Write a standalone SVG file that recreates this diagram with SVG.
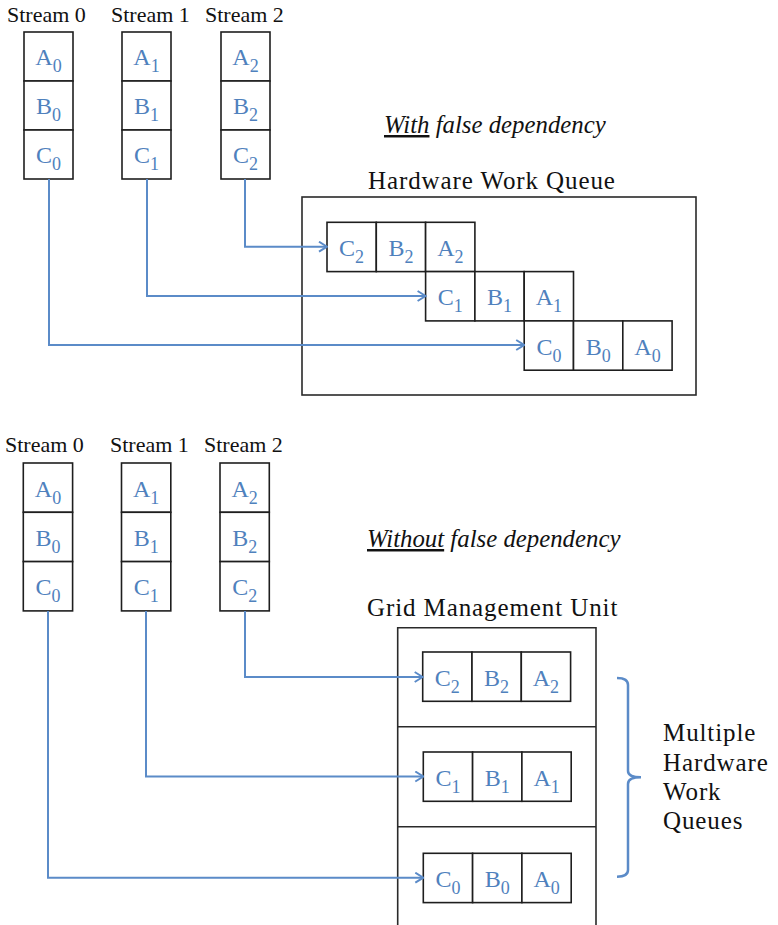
<svg xmlns="http://www.w3.org/2000/svg" width="778" height="925" viewBox="0 0 778 925">
  <style>
    .cell { fill: #ffffff; stroke: #1e1e1e; stroke-width: 1.6; }
    .frame { fill: none; stroke: #2a2a2a; stroke-width: 1.6; }
    .lbl { font-family: "Liberation Serif", "Times New Roman", serif; font-size: 24px; fill: #4f81bd; text-anchor: middle; }
    .sub { font-size: 18px; }
    .head { font-family: "Liberation Serif", "Times New Roman", serif; font-size: 22px; fill: #111111; }
    .title { font-family: "Liberation Serif", "Times New Roman", serif; font-size: 25px; letter-spacing: 0.9px; fill: #111111; }
    .note { font-family: "Liberation Serif", "Times New Roman", serif; font-size: 24.8px; font-style: italic; fill: #111111; }
    .ul { text-decoration: underline; }
    .conn { fill: none; stroke: #5b8bc8; stroke-width: 2; }
    .brace { fill: none; stroke: #5b8bc8; stroke-width: 2.5; }
  </style>
  <defs>
    <marker id="arrow" viewBox="0 0 10 12" refX="9" refY="6" markerWidth="10" markerHeight="12" markerUnits="userSpaceOnUse" orient="auto">
      <path d="M1,1 L9,6 L1,11" fill="none" stroke="#5b8bc8" stroke-width="2"/>
    </marker>
  </defs>
  <rect width="778" height="925" fill="#ffffff"/>

  <!-- ===== Upper half: single hardware work queue ===== -->
  <g id="streams-top">
    <text class="head" x="7" y="22">Stream 0</text>
    <text class="head" x="111" y="22">Stream 1</text>
    <text class="head" x="205" y="22">Stream 2</text>
  </g>

  <g id="stream0-top">
    <rect class="cell" x="24" y="32" width="49" height="49"/>
    <rect class="cell" x="24" y="81" width="49" height="49"/>
    <rect class="cell" x="24" y="130" width="49" height="49"/>
    <text class="lbl" x="48.5" y="65">A<tspan class="sub" dy="7">0</tspan></text>
    <text class="lbl" x="48.5" y="114">B<tspan class="sub" dy="7">0</tspan></text>
    <text class="lbl" x="48.5" y="163">C<tspan class="sub" dy="7">0</tspan></text>
  </g>
  <g id="stream1-top">
    <rect class="cell" x="122" y="32" width="49" height="49"/>
    <rect class="cell" x="122" y="81" width="49" height="49"/>
    <rect class="cell" x="122" y="130" width="49" height="49"/>
    <text class="lbl" x="146.5" y="65">A<tspan class="sub" dy="7">1</tspan></text>
    <text class="lbl" x="146.5" y="114">B<tspan class="sub" dy="7">1</tspan></text>
    <text class="lbl" x="146.5" y="163">C<tspan class="sub" dy="7">1</tspan></text>
  </g>
  <g id="stream2-top">
    <rect class="cell" x="221" y="32" width="49" height="49"/>
    <rect class="cell" x="221" y="81" width="49" height="49"/>
    <rect class="cell" x="221" y="130" width="49" height="49"/>
    <text class="lbl" x="245.5" y="65">A<tspan class="sub" dy="7">2</tspan></text>
    <text class="lbl" x="245.5" y="114">B<tspan class="sub" dy="7">2</tspan></text>
    <text class="lbl" x="245.5" y="163">C<tspan class="sub" dy="7">2</tspan></text>
  </g>

  <g id="caption-with">
    <text class="note" x="384" y="133"><tspan class="ul">With</tspan> false dependency</text>
  </g>

  <g id="hw-queue">
    <text class="title" x="368" y="189">Hardware Work Queue</text>
    <rect class="frame" x="302" y="197" width="394" height="198"/>
    <!-- row from stream 2 -->
    <rect class="cell" x="327" y="222.3" width="49.3" height="49.3"/>
    <rect class="cell" x="376.3" y="222.3" width="49.3" height="49.3"/>
    <rect class="cell" x="425.6" y="222.3" width="49.3" height="49.3"/>
    <text class="lbl" x="351.6" y="256">C<tspan class="sub" dy="7">2</tspan></text>
    <text class="lbl" x="401" y="256">B<tspan class="sub" dy="7">2</tspan></text>
    <text class="lbl" x="450.3" y="256">A<tspan class="sub" dy="7">2</tspan></text>
    <!-- row from stream 1 -->
    <rect class="cell" x="425.6" y="271.6" width="49.3" height="49.3"/>
    <rect class="cell" x="474.9" y="271.6" width="49.3" height="49.3"/>
    <rect class="cell" x="524.2" y="271.6" width="49.3" height="49.3"/>
    <text class="lbl" x="450.3" y="305.3">C<tspan class="sub" dy="7">1</tspan></text>
    <text class="lbl" x="499.6" y="305.3">B<tspan class="sub" dy="7">1</tspan></text>
    <text class="lbl" x="548.9" y="305.3">A<tspan class="sub" dy="7">1</tspan></text>
    <!-- row from stream 0 -->
    <rect class="cell" x="524.2" y="320.9" width="49.3" height="49.3"/>
    <rect class="cell" x="573.5" y="320.9" width="49.3" height="49.3"/>
    <rect class="cell" x="622.8" y="320.9" width="49.3" height="49.3"/>
    <text class="lbl" x="548.9" y="354.6">C<tspan class="sub" dy="7">0</tspan></text>
    <text class="lbl" x="598.2" y="354.6">B<tspan class="sub" dy="7">0</tspan></text>
    <text class="lbl" x="647.5" y="354.6">A<tspan class="sub" dy="7">0</tspan></text>
  </g>

  <!-- ===== Lower half: grid management unit ===== -->
  <g id="streams-bottom">
    <text class="head" x="5" y="452">Stream 0</text>
    <text class="head" x="110" y="452">Stream 1</text>
    <text class="head" x="204" y="452">Stream 2</text>
  </g>

  <g id="stream0-bottom">
    <rect class="cell" x="23.3" y="463" width="49.3" height="49.3"/>
    <rect class="cell" x="23.3" y="512.3" width="49.3" height="49.3"/>
    <rect class="cell" x="23.3" y="561.6" width="49.3" height="49.3"/>
    <text class="lbl" x="48" y="496.5">A<tspan class="sub" dy="7">0</tspan></text>
    <text class="lbl" x="48" y="545.8">B<tspan class="sub" dy="7">0</tspan></text>
    <text class="lbl" x="48" y="595.1">C<tspan class="sub" dy="7">0</tspan></text>
  </g>
  <g id="stream1-bottom">
    <rect class="cell" x="121.5" y="463" width="49.3" height="49.3"/>
    <rect class="cell" x="121.5" y="512.3" width="49.3" height="49.3"/>
    <rect class="cell" x="121.5" y="561.6" width="49.3" height="49.3"/>
    <text class="lbl" x="146.2" y="496.5">A<tspan class="sub" dy="7">1</tspan></text>
    <text class="lbl" x="146.2" y="545.8">B<tspan class="sub" dy="7">1</tspan></text>
    <text class="lbl" x="146.2" y="595.1">C<tspan class="sub" dy="7">1</tspan></text>
  </g>
  <g id="stream2-bottom">
    <rect class="cell" x="220" y="463" width="49.3" height="49.3"/>
    <rect class="cell" x="220" y="512.3" width="49.3" height="49.3"/>
    <rect class="cell" x="220" y="561.6" width="49.3" height="49.3"/>
    <text class="lbl" x="244.7" y="496.5">A<tspan class="sub" dy="7">2</tspan></text>
    <text class="lbl" x="244.7" y="545.8">B<tspan class="sub" dy="7">2</tspan></text>
    <text class="lbl" x="244.7" y="595.1">C<tspan class="sub" dy="7">2</tspan></text>
  </g>

  <g id="caption-without">
    <text class="note" x="367" y="547"><tspan class="ul">Without</tspan> false dependency</text>
  </g>

  <g id="gmu">
    <text class="title" x="367" y="616">Grid Management Unit</text>
    <path class="frame" d="M397.7,930 V627.7 H596 V930"/>
    <line class="frame" x1="397.7" y1="726.7" x2="596" y2="726.7"/>
    <line class="frame" x1="397.7" y1="826.7" x2="596" y2="826.7"/>
  </g>

  <g id="queue2">
    <rect class="cell" x="422.7" y="652" width="49.3" height="49.3"/>
    <rect class="cell" x="472" y="652" width="49.3" height="49.3"/>
    <rect class="cell" x="521.3" y="652" width="49.3" height="49.3"/>
    <text class="lbl" x="447.3" y="685.7">C<tspan class="sub" dy="7">2</tspan></text>
    <text class="lbl" x="496.6" y="685.7">B<tspan class="sub" dy="7">2</tspan></text>
    <text class="lbl" x="545.9" y="685.7">A<tspan class="sub" dy="7">2</tspan></text>
  </g>
  <g id="queue1">
    <rect class="cell" x="423.3" y="752" width="49.3" height="49.3"/>
    <rect class="cell" x="472.6" y="752" width="49.3" height="49.3"/>
    <rect class="cell" x="521.9" y="752" width="49.3" height="49.3"/>
    <text class="lbl" x="448" y="785.7">C<tspan class="sub" dy="7">1</tspan></text>
    <text class="lbl" x="497.3" y="785.7">B<tspan class="sub" dy="7">1</tspan></text>
    <text class="lbl" x="546.6" y="785.7">A<tspan class="sub" dy="7">1</tspan></text>
  </g>
  <g id="queue0">
    <rect class="cell" x="423.3" y="853.3" width="49.3" height="49.3"/>
    <rect class="cell" x="472.6" y="853.3" width="49.3" height="49.3"/>
    <rect class="cell" x="521.9" y="853.3" width="49.3" height="49.3"/>
    <text class="lbl" x="448" y="887">C<tspan class="sub" dy="7">0</tspan></text>
    <text class="lbl" x="497.3" y="887">B<tspan class="sub" dy="7">0</tspan></text>
    <text class="lbl" x="546.6" y="887">A<tspan class="sub" dy="7">0</tspan></text>
  </g>

  <g id="queues-label">
    <path class="brace" d="M617,678 Q628,678 628,685 L628,771 Q628,777.3 641,777.3 Q628,777.3 628,784 L628,870 Q628,876.7 617,876.7"/>
    <text class="title" x="663" y="741">Multiple</text>
    <text class="title" x="663" y="771">Hardware</text>
    <text class="title" x="663" y="800">Work</text>
    <text class="title" x="663" y="829">Queues</text>
  </g>

  <!-- stream-to-queue connectors -->
  <g id="connectors">
    <path class="conn" d="M49,179 V345 H524.2" marker-end="url(#arrow)"/>
    <path class="conn" d="M147,179 V296 H425.6" marker-end="url(#arrow)"/>
    <path class="conn" d="M245,179 V246.7 H327" marker-end="url(#arrow)"/>
    <path class="conn" d="M48,611 V877.7 H423.3" marker-end="url(#arrow)"/>
    <path class="conn" d="M146,611 V776.5 H423.3" marker-end="url(#arrow)"/>
    <path class="conn" d="M245,611 V677 H422.7" marker-end="url(#arrow)"/>
  </g>
</svg>
